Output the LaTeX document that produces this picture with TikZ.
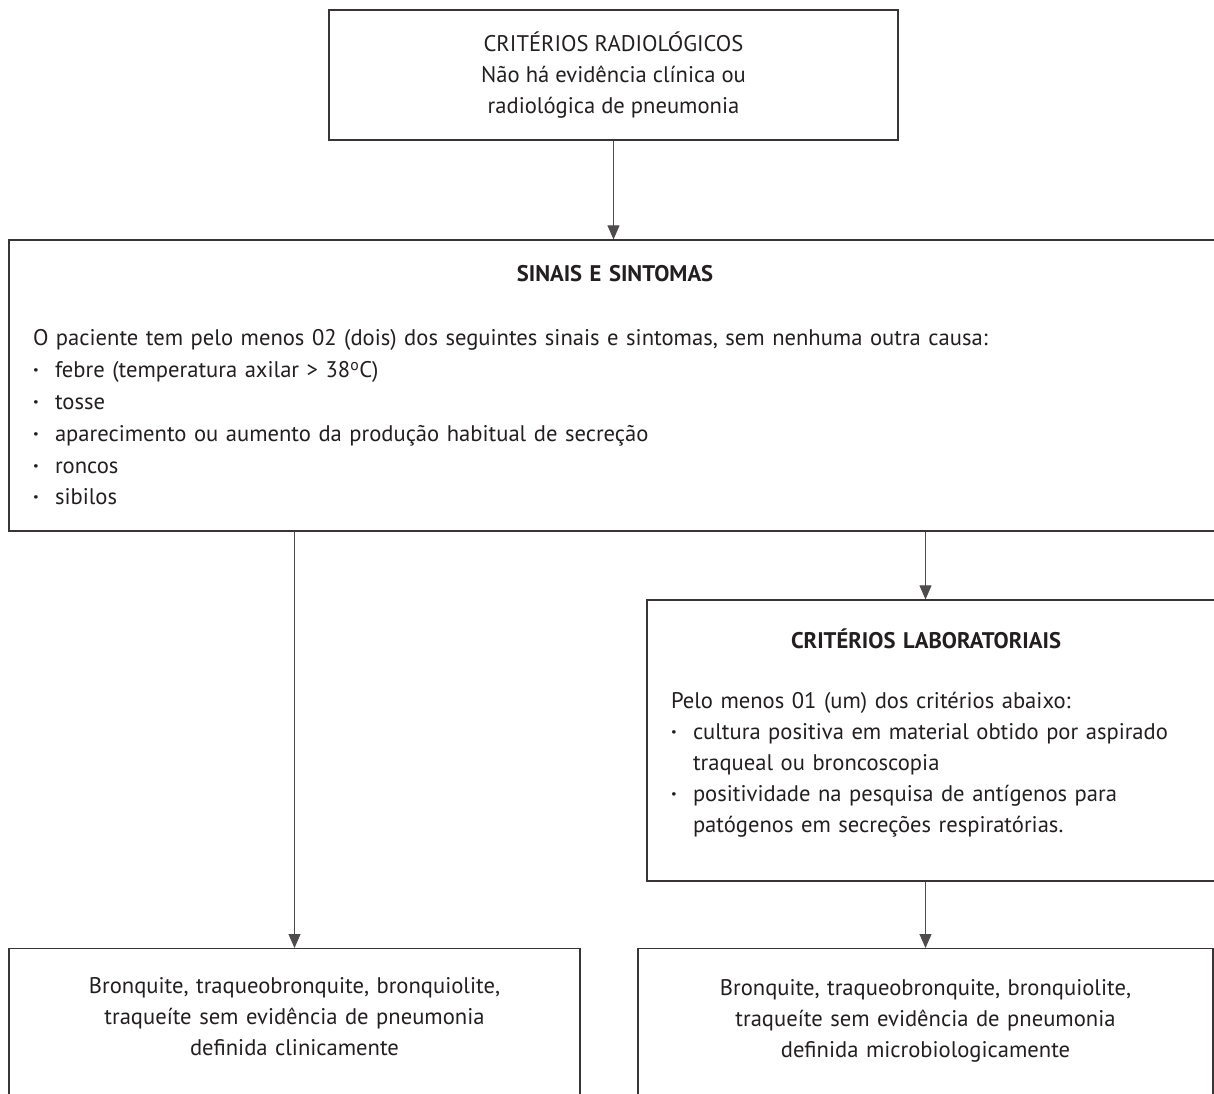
\documentclass[tikz,border=0pt]{standalone}
\usepackage{fontspec}
\setmainfont{PT Sans}
\usepackage{xcolor}
\usetikzlibrary{arrows.meta,positioning}
\definecolor{ink}{HTML}{231F20}
\tikzset{
	box/.style={draw=ink!90, line width=1.2pt, text=ink, inner xsep=24pt, inner ysep=4pt},
	flow/.style={draw=ink!80, line width=1pt, -{Triangle[length=14pt,width=12pt]}}
}
\newcommand{\itm}{\makebox[22pt][l]{\bfseries ·}}

\begin{document}
\begin{tikzpicture}[x=1pt, y=-1pt, every node/.style={font=\fontsize{22.6}{31}\selectfont}]
	\useasboundingbox (0,0) rectangle (1214,1093);
	\clip (0,0) rectangle (1214,1093);
	\fill[white] (0,0) rectangle (1214,1093);

	% Radiological criteria
	\node[box, align=center, minimum width=569pt, minimum height=130pt] (radio) at (613.5,75)
		{CRITÉRIOS RADIOLÓGICOS\\Não há evidência clínica ou\\radiológica de pneumonia};

	% Signs and symptoms
	\node[box, align=left, text width=1164pt, minimum height=291pt,
		font=\fontsize{22.6}{31.8}\selectfont] (sinais) at (615,385.5)
		{\makebox[\linewidth]{\bfseries SINAIS E SINTOMAS}\\[32.2pt]
		O paciente tem pelo menos 02 (dois) dos seguintes sinais e sintomas, sem nenhuma outra causa:\\
		\itm febre (temperatura axilar > 38\textsuperscript{o}C)\\
		\itm tosse\\
		\itm aparecimento ou aumento da produção habitual de secreção\\
		\itm roncos\\
		\itm sibilos};

	% Laboratory criteria
	\node[box, align=left, text width=540pt, minimum height=281pt] (lab) at (941,740.5)
		{\makebox[510pt]{\bfseries CRITÉRIOS LABORATORIAIS}\\[29pt]
		Pelo menos 01 (um) dos critérios abaixo:\\
		\itm cultura positiva em material obtido por aspirado\\
		\hspace*{22pt}traqueal ou broncoscopia\\
		\itm positividade na pesquisa de antígenos para\\
		\hspace*{22pt}patógenos em secreções respiratórias.\rule[-20pt]{0pt}{0pt}};

	% Outcomes
	\node[box, align=center, text width=523pt, minimum height=170pt, anchor=north] (clin) at (294.5,948)
		{Bronquite, traqueobronquite, bronquiolite,\\traqueíte sem evidência de pneumonia\\definida clinicamente\rule[-34pt]{0pt}{0pt}};
	\node[box, align=center, text width=527pt, minimum height=170pt, anchor=north] (micro) at (925.5,948)
		{Bronquite, traqueobronquite, bronquiolite,\\traqueíte sem evidência de pneumonia\\definida microbiologicamente\rule[-30pt]{0pt}{0pt}};

	% Arrows
	\draw[flow] (radio.south) -- (radio.south |- sinais.north);
	\draw[flow] (clin.north |- sinais.south) -- (clin.north);
	\draw[flow] (micro.north |- sinais.south) -- (micro.north |- lab.north);
	\draw[flow] (micro.north |- lab.south) -- (micro.north);
\end{tikzpicture}
\end{document}
